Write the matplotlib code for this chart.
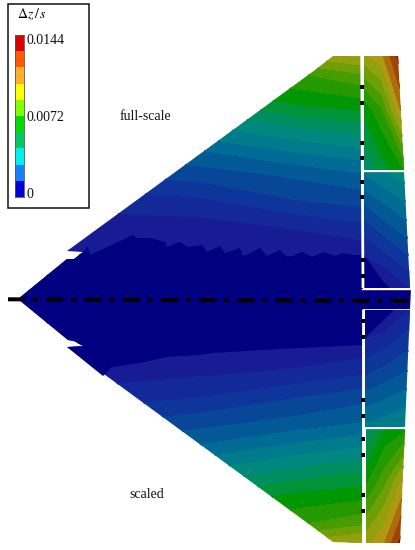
import numpy as np
import matplotlib
matplotlib.use('Agg')
import matplotlib.pyplot as plt
from matplotlib.colors import LinearSegmentedColormap, ListedColormap
from matplotlib.patches import Polygon, Rectangle

plt.rcParams['font.family'] = ['Liberation Serif', 'DejaVu Serif']
plt.rcParams['mathtext.fontset'] = 'stix'

DZ_MAX = 0.0144
N_BANDS = 20

# colour table of the surface (fraction of DZ_MAX -> rgb)
surface_stops = [0, 0.08, 0.16, 0.25, 0.33, 0.42, 0.5, 0.58, 0.66, 0.75, 0.82, 0.9, 1]
surface_colors = ['#000080', '#191e96', '#0f329b', '#055096', '#006e96', '#008782',
                  '#009150', '#009600', '#3c9b00', '#82a00a', '#afa014', '#aa5a05', '#820000']

# legend bar, bottom to top
legend_colors = ['#0000dc', '#1482ff', '#00f0f0', '#00c864', '#00dc00',
                 '#82ff00', '#ffff00', '#ffaf28', '#ff5a00', '#dc0000']
legend_ticks = [0, 0.0072, 0.0144]
legend_ticklabels = ['0', '0.0072', '0.0144']

# main wing, values as fraction of DZ_MAX
wing_x = [18, 100, 200, 300, 362]
wing_y = [50, 75, 100, 125, 150, 175, 200, 225, 250, 275, 299,
          323, 348, 373, 398, 423, 448, 473, 498, 523, 548]
wing_z = [
    [0.63, 0.65, 0.70, 0.79, 0.84],
    [0.55, 0.57, 0.60, 0.64, 0.69],
    [0.45, 0.47, 0.50, 0.57, 0.59],
    [0.35, 0.37, 0.40, 0.46, 0.49],
    [0.25, 0.27, 0.30, 0.36, 0.39],
    [0.18, 0.20, 0.22, 0.26, 0.29],
    [0.10, 0.12, 0.14, 0.20, 0.22],
    [0.06, 0.08, 0.08, 0.11, 0.14],
    [0.06, 0.06, 0.06, 0.06, 0.07],
    [0.00, 0.00, 0.00, 0.01, 0.02],
    [0.00, 0.00, 0.00, 0.00, 0.00],
    [0.00, 0.00, 0.00, 0.01, 0.02],
    [0.06, 0.06, 0.06, 0.06, 0.07],
    [0.06, 0.08, 0.09, 0.11, 0.14],
    [0.10, 0.12, 0.15, 0.20, 0.23],
    [0.18, 0.20, 0.23, 0.27, 0.30],
    [0.25, 0.27, 0.31, 0.37, 0.40],
    [0.35, 0.37, 0.41, 0.47, 0.50],
    [0.45, 0.47, 0.51, 0.57, 0.59],
    [0.55, 0.57, 0.60, 0.64, 0.68],
    [0.63, 0.65, 0.70, 0.79, 0.84],
]
wing_outline = [(18, 299), (67, 259), (74, 259), (83, 252), (67, 251), (315, 70), (333, 56),
                (362, 56), (363, 543), (333, 542), (317, 530), (67, 347), (83, 346),
                (74, 341), (68, 340)]

# dark region around the centre line, the toothed edge comes from the picture
navy_outline = [(18, 299), (67, 259), (74, 259), (83, 252), (88, 246), (90, 255), (133, 235),
                (137, 238), (150, 238), (165, 242), (167, 247), (180, 242), (188, 247),
                (202, 245), (207, 252), (220, 246), (225, 253), (240, 248), (243, 257),
                (260, 248), (267, 256), (280, 250), (288, 258), (302, 252), (312, 257),
                (323, 252), (335, 256), (343, 253), (353, 255), (363, 255), (363, 345),
                (280, 349), (213, 353), (200, 355), (167, 357), (140, 363), (112, 367),
                (103, 376), (67, 347), (83, 346), (74, 341), (68, 340)]
navy_flap_top = [(364, 255), (388, 288), (364, 288)]
navy_flap_bottom = [(365, 338), (395, 309), (365, 309)]

# flap pieces: stations, values, outline
flap_a_x = [364, 382, 404]
flap_a_y = [56, 110, 170]
flap_a_z = [[0.78, 0.84, 1.00], [0.56, 0.64, 0.88], [0.45, 0.52, 0.60]]
flap_a_outline = [(364, 56), (398, 56), (404, 170), (364, 170)]

flap_b_x = [364, 385, 410]
flap_b_y = [171, 230, 288]
flap_b_z = [[0.36, 0.40, 0.44], [0.16, 0.22, 0.28], [0.02, 0.03, 0.10]]
flap_b_outline = [(364, 171), (404, 171), (410, 288), (364, 288)]

flap_c_x = [365, 385, 410]
flap_c_y = [309, 370, 427]
flap_c_z = [[0.02, 0.03, 0.10], [0.18, 0.21, 0.25], [0.36, 0.38, 0.41]]
flap_c_outline = [(365, 309), (410, 309), (405, 427), (365, 427)]

flap_d_x = [366, 385, 405]
flap_d_y = [428, 480, 543]
flap_d_z = [[0.45, 0.55, 0.58], [0.58, 0.68, 0.82], [0.78, 0.85, 1.00]]
flap_d_outline = [(366, 428), (405, 428), (400, 543), (366, 543)]

marker_y = [87, 103, 143, 158, 182, 197, 260, 276, 321, 337, 400, 416, 439, 455, 495, 511]
marker_x = [361.7, 361.7, 362, 362, 362, 362, 362.7, 362.7, 363, 363, 363, 363, 363, 363, 363, 363]

surface_cmap = LinearSegmentedColormap.from_list('surface', list(zip(surface_stops, surface_colors)))
levels = np.linspace(0, 1, N_BANDS + 1)


def draw_field(ax, x, y, z, outline):
    patch = Polygon(outline, closed=True, transform=ax.transData)
    cs = ax.contourf(x, y, z, levels=levels, cmap=surface_cmap, vmin=0, vmax=1, extend='both',
                     zorder=1)
    cs.set_edgecolor('face')
    cs.set_linewidth(0.4)
    cs.set_clip_path(patch)


fig = plt.figure(figsize=(4.15, 5.5), dpi=100)
ax = fig.add_axes([0, 0, 1, 1])
ax.set_xlim(0, 415)
ax.set_ylim(550, 0)
ax.axis('off')

draw_field(ax, wing_x, wing_y, wing_z, wing_outline)
draw_field(ax, flap_a_x, flap_a_y, flap_a_z, flap_a_outline)
draw_field(ax, flap_b_x, flap_b_y, flap_b_z, flap_b_outline)
draw_field(ax, flap_c_x, flap_c_y, flap_c_z, flap_c_outline)
draw_field(ax, flap_d_x, flap_d_y, flap_d_z, flap_d_outline)

# navy core and strip along the centre line
for outline in [navy_outline, navy_flap_top, navy_flap_bottom]:
    ax.add_patch(Polygon(outline, closed=True, fc='#000080', ec='none', zorder=2))
ax.add_patch(Polygon([(362, 289), (411, 289), (410, 309), (362, 309)], closed=True,
                     fc='#000080', ec='none', zorder=2))

# white gaps
ax.plot([361.7, 363], [56, 288], color='white', lw=2.0, zorder=3, solid_capstyle='butt')
ax.plot([363, 363], [309, 543], color='white', lw=2.0, zorder=3, solid_capstyle='butt')
ax.plot([362, 410], [288.5, 288.5], color='white', lw=1.0, zorder=3)
ax.plot([363, 410], [309, 309], color='#dfe3f0', lw=0.7, zorder=3)
ax.plot([364, 404], [170.5, 170.5], color='white', lw=0.9, zorder=3)
ax.plot([365, 405], [427.5, 427.5], color='white', lw=0.9, zorder=3)

ax.plot(marker_x, marker_y, ls='none', marker='s', ms=3.3, mfc='black', mec='black', mew=0, zorder=4)

# centre line
ax.plot([8, 410], [299.3, 301], color='black', lw=2.9, dashes=(4.25, 2.0, 1.1, 2.15),
        dash_capstyle='butt', zorder=5)

ax.text(145, 116, 'full-scale', fontsize=10, ha='center', va='center', color='#111111')
ax.text(147, 495, 'scaled', fontsize=10, ha='center', va='center', color='#111111')

# legend box
ax.add_patch(Rectangle((8, 4), 81, 204, fc='white', ec='#111111', lw=1.1, zorder=6))
ax.text(31.5, 14, r'$\Delta z\,/\,s$', fontsize=10, ha='center', va='center', zorder=7)

cax = fig.add_axes([15 / 415, 1 - 197 / 550, 9 / 415, 162 / 550], zorder=8)
bar_edges = np.linspace(-0.0004, 0.0148, len(legend_colors) + 1)
cax.pcolormesh([0, 1], bar_edges, np.arange(len(legend_colors)).reshape(-1, 1),
               cmap=ListedColormap(legend_colors))
cax.set_xticks([])
cax.yaxis.tick_right()
cax.set_yticks(legend_ticks)
cax.set_yticklabels(legend_ticklabels, fontsize=10, color='#111111')
cax.tick_params(axis='y', length=0, pad=2)
for spine in cax.spines.values():
    spine.set_linewidth(0.6)
    spine.set_color('#555555')

fig.savefig('out.png', dpi=100)
